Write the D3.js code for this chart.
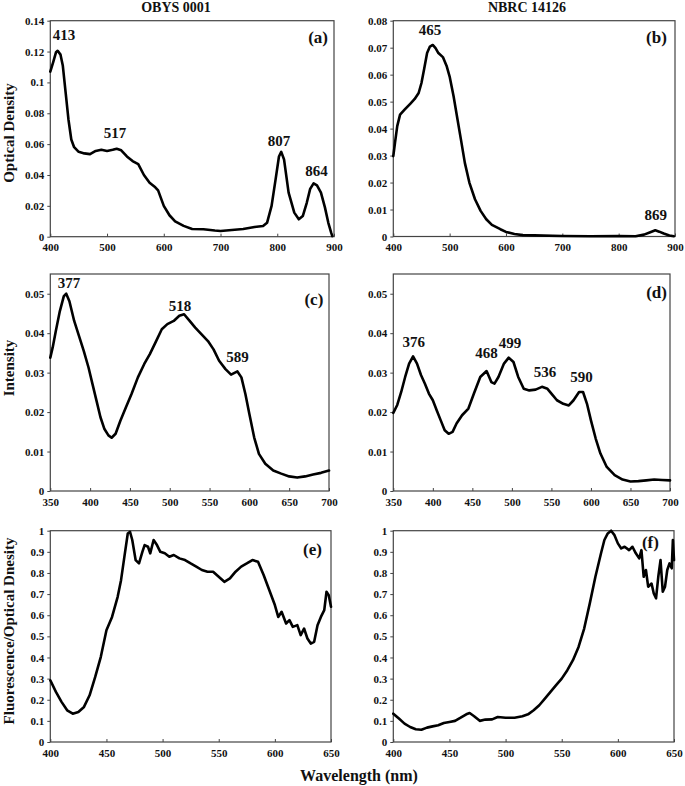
<!DOCTYPE html>
<html>
<head>
<meta charset="utf-8">
<script src="https://cdn.jsdelivr.net/npm/d3@7"></script>
<style>
  body { margin: 0; background: #fff; }
  text { font-family: "Liberation Serif", "Times New Roman", serif; font-weight: bold; fill: #111; }
</style>
</head>
<body>
<svg id="chart" width="685" height="786"></svg>
<script>
// (a) OBYS 0001 absorption
const aWave = [400,405,410,413,418,422,427,432,437,442,450,460,470,480,490,500,510,517,525,535,545,555,565,575,585,590,600,610,620,635,650,670,690,700,720,740,760,775,782,790,797,803,807,812,820,830,838,845,852,858,864,870,877,884,890,895,897];
const aOD = [0.107,0.113,0.1195,0.1205,0.118,0.111,0.0935,0.076,0.063,0.058,0.055,0.054,0.0535,0.0556,0.0563,0.0556,0.0563,0.057,0.056,0.052,0.049,0.047,0.040,0.035,0.032,0.030,0.020,0.0139,0.010,0.007,0.005,0.0048,0.004,0.0037,0.0043,0.005,0.0063,0.0069,0.009,0.020,0.037,0.052,0.055,0.050,0.0286,0.0156,0.0113,0.0134,0.022,0.031,0.0346,0.0333,0.0286,0.019,0.009,0.0026,0.0004];
const aPeakText = ['413','517','807','864'];
const aPeakX = [424,514,803,869];
const aPeakY = [0.1275,0.064,0.0585,0.0393];

// (b) NBRC 14126 absorption
const bWave = [400,403,407,412,420,430,438,445,450,455,460,465,470,475,480,488,495,500,507,513,520,527,535,545,555,565,575,590,600,615,630,650,700,750,800,830,845,855,865,872,880,890,898];
const bOD = [0.0298,0.0347,0.0409,0.0452,0.047,0.0492,0.051,0.0532,0.0569,0.0624,0.068,0.0704,0.071,0.0698,0.068,0.0665,0.063,0.0593,0.052,0.0446,0.036,0.0273,0.020,0.0138,0.0095,0.0064,0.0043,0.0027,0.0017,0.0009,0.0005,0.0004,0.0002,0.0001,0.0002,0.0001,0.0007,0.0015,0.0023,0.0018,0.0011,0.0004,0.0001];
const bPeakText = ['465','869'];
const bPeakX = [465,866];
const bPeakY = [0.0746,0.0061];

// (c) OBYS 0001 fluorescence
const cWave = [350,353,357,362,367,370,374,380,386,392,398,403,408,413,418,423,427,432,438,445,452,460,468,475,482,490,497,505,512,518,525,532,540,548,555,562,570,577,585,590,595,600,606,612,620,630,640,650,660,670,680,690,700];
const cInt = [0.0338,0.0364,0.0406,0.0456,0.0494,0.050,0.0481,0.0431,0.0393,0.0355,0.0313,0.0271,0.0229,0.0187,0.0157,0.0141,0.0135,0.0145,0.0178,0.0212,0.0246,0.0288,0.0322,0.0347,0.0376,0.041,0.0423,0.0431,0.0444,0.0448,0.0431,0.0414,0.0397,0.038,0.0359,0.033,0.0309,0.0295,0.0303,0.0288,0.0246,0.0195,0.0136,0.0094,0.0069,0.0052,0.0044,0.0037,0.0034,0.0037,0.0042,0.0046,0.0052];
const cPeakText = ['377','518','589'];
const cPeakX = [373.5,513,585];
const cPeakY = [0.0515,0.0457,0.0328];

// (d) NBRC 14126 fluorescence
const dWave = [350,355,360,365,370,375,380,385,390,395,400,405,410,415,420,425,430,437,445,452,460,468,474,478,483,490,496,502,508,515,522,530,538,545,550,557,565,572,578,585,590,595,600,606,612,620,630,640,650,660,670,680,690,700];
const dInt = [0.0198,0.0218,0.0251,0.0289,0.0323,0.0341,0.0323,0.0294,0.0272,0.0247,0.023,0.0204,0.0179,0.0154,0.0145,0.015,0.0171,0.0192,0.0209,0.0247,0.0289,0.0304,0.0276,0.0272,0.0289,0.0323,0.0338,0.0327,0.0289,0.0259,0.0255,0.0257,0.0264,0.0259,0.0247,0.023,0.0221,0.0217,0.023,0.0251,0.0251,0.0221,0.0179,0.0133,0.0095,0.0061,0.004,0.0029,0.0024,0.0025,0.0027,0.0029,0.0028,0.0027];
const dPeakText = ['376','468','499','536','590'];
const dPeakX = [376,468,497.6,542,588];
const dPeakY = [0.0365,0.0337,0.0362,0.029,0.0277];

// (e) OBYS 0001 fluorescence / optical density
const eWave = [400,405,410,415,420,425,430,435,440,445,450,455,460,463,466,469,471,473,476,479,482,484,487,489,492,495,498,502,506,510,515,520,525,530,535,540,545,550,555,560,565,570,575,580,585,590,595,600,603,606,610,613,616,620,623,626,629,632,635,638,641,644,646,648,650];
const eRatio = [0.292,0.237,0.19,0.15,0.134,0.142,0.166,0.221,0.308,0.403,0.529,0.592,0.687,0.766,0.877,0.987,0.995,0.956,0.861,0.845,0.9,0.932,0.924,0.893,0.956,0.932,0.9,0.893,0.877,0.885,0.869,0.861,0.845,0.83,0.814,0.806,0.806,0.782,0.758,0.774,0.806,0.83,0.845,0.861,0.853,0.79,0.719,0.648,0.592,0.616,0.561,0.577,0.545,0.553,0.506,0.537,0.49,0.466,0.474,0.553,0.592,0.624,0.711,0.695,0.64];

// (f) NBRC 14126 fluorescence / optical density
const fWave = [400,405,410,415,420,425,430,435,440,445,450,455,460,465,468,472,477,482,488,493,500,508,515,520,525,530,535,540,545,550,555,560,565,570,575,580,585,588,591,594,597,600,603,606,610,613,616,619,621,623,625,627,630,632,634,636,638,640,642,644,646,648,649,650];
const fRatio = [0.134,0.111,0.087,0.071,0.06,0.058,0.068,0.074,0.079,0.09,0.095,0.1,0.115,0.131,0.137,0.122,0.1,0.106,0.107,0.118,0.115,0.115,0.122,0.131,0.15,0.174,0.205,0.237,0.269,0.3,0.34,0.387,0.45,0.537,0.656,0.782,0.893,0.956,0.987,1.0,0.979,0.94,0.916,0.924,0.908,0.924,0.893,0.869,0.908,0.782,0.814,0.735,0.75,0.703,0.68,0.782,0.861,0.711,0.735,0.814,0.845,0.822,0.956,0.861];

const ticksOD_a = [0,0.02,0.04,0.06,0.08,0.1,0.12,0.14];
const ticksOD_b = [0,0.01,0.02,0.03,0.04,0.05,0.06,0.07,0.08];
const ticksInt = [0,0.01,0.02,0.03,0.04,0.05];
const ticksRatio = [0,0.1,0.2,0.3,0.4,0.5,0.6,0.7,0.8,0.9,1];
const ticksWaveAbs = [400,500,600,700,800,900];
const ticksWaveFl = [350,400,450,500,550,600,650,700];
const ticksWaveRatio = [400,450,500,550,600,650];

const panels = [
  {tag:'(a)', tagX:872, tagY:0.1255, x:aWave, y:aOD, xd:[400,900], yd:[0,0.14], xt:ticksWaveAbs, yt:ticksOD_a,
   box:[50.3,20.7,334,236.7], pt:aPeakText, px:aPeakX, py:aPeakY},
  {tag:'(b)', tagX:867, tagY:0.0717, x:bWave, y:bOD, xd:[400,900], yd:[0,0.08], xt:ticksWaveAbs, yt:ticksOD_b,
   box:[393.3,20.7,675,236.5], pt:bPeakText, px:bPeakX, py:bPeakY},
  {tag:'(c)', tagX:681, tagY:0.0472, x:cWave, y:cInt, xd:[350,700], yd:[0,0.055], xt:ticksWaveFl, yt:ticksInt,
   box:[50.3,274,329,491], pt:cPeakText, px:cPeakX, py:cPeakY},
  {tag:'(d)', tagX:683, tagY:0.0489, x:dWave, y:dInt, xd:[350,700], yd:[0,0.055], xt:ticksWaveFl, yt:ticksInt,
   box:[393.3,274,670,491], pt:dPeakText, px:dPeakX, py:dPeakY},
  {tag:'(e)', tagX:633.5, tagY:0.885, x:eWave, y:eRatio, xd:[400,650], yd:[0,1], xt:ticksWaveRatio, yt:ticksRatio,
   box:[50.3,530.7,331,742], pt:[], px:[], py:[]},
  {tag:'(f)', tagX:629, tagY:0.918, x:fWave, y:fRatio, xd:[400,650], yd:[0,1], xt:ticksWaveRatio, yt:ticksRatio,
   box:[393.3,530.7,674,742], pt:[], px:[], py:[]}
];

const svg = d3.select('#chart');
const fmt = v => String(+v.toFixed(3));

panels.forEach(p => {
  const [x0, y0, x1, y1] = p.box;
  const xs = d3.scaleLinear().domain(p.xd).range([x0, x1]);
  const ys = d3.scaleLinear().domain(p.yd).range([y1, y0]);
  const g = svg.append('g');

  const yAxis = g.append('g').attr('transform', `translate(${x0},0)`)
    .call(d3.axisLeft(ys).tickValues(p.yt).tickFormat(fmt).tickSize(3).tickPadding(3));
  const xAxis = g.append('g').attr('transform', `translate(0,${y1})`)
    .call(d3.axisBottom(xs).tickValues(p.xt).tickFormat(d3.format('d')).tickSize(-3).tickPadding(7));
  [yAxis, xAxis].forEach(a => {
    a.select('.domain').remove();
    a.selectAll('line').attr('stroke', '#444');
    a.selectAll('text').attr('font-size', 11).style('font-family', '"Liberation Serif", serif').style('font-weight', 'bold');
  });

  g.append('rect').attr('x', x0).attr('y', y0).attr('width', x1 - x0).attr('height', y1 - y0)
    .attr('fill', 'none').attr('stroke', '#444').attr('stroke-width', 1.2);

  const line = d3.line().x(d => xs(d[0])).y(d => ys(d[1]));
  g.append('path').datum(p.x.map((w, i) => [w, p.y[i]]))
    .attr('d', line).attr('fill', 'none').attr('stroke', '#000')
    .attr('stroke-width', 2.6).attr('stroke-linejoin', 'round').attr('stroke-linecap', 'round');

  g.selectAll('.peak').data(p.pt).join('text').attr('class', 'peak')
    .attr('x', (d, i) => xs(p.px[i])).attr('y', (d, i) => ys(p.py[i]))
    .attr('text-anchor', 'middle').attr('font-size', 15).text(d => d);

  g.append('text').attr('x', xs(p.tagX)).attr('y', ys(p.tagY))
    .attr('text-anchor', 'middle').attr('font-size', 17).text(p.tag);
});

svg.append('text').attr('x', 176).attr('y', 12).attr('text-anchor', 'middle').attr('font-size', 14).text('OBYS 0001');
svg.append('text').attr('x', 527).attr('y', 12).attr('text-anchor', 'middle').attr('font-size', 14).text('NBRC 14126');

const yTitles = [['Optical Density', 133], ['Intensity', 368], ['Fluorescence/Optical Dnesity', 631]];
yTitles.forEach(([t, cy]) => {
  svg.append('text').attr('transform', `translate(14,${cy}) rotate(-90)`)
    .attr('text-anchor', 'middle').attr('font-size', 15).text(t);
});
svg.append('text').attr('x', 359).attr('y', 781).attr('text-anchor', 'middle').attr('font-size', 16).text('Wavelength (nm)');
</script>
</body>
</html>
